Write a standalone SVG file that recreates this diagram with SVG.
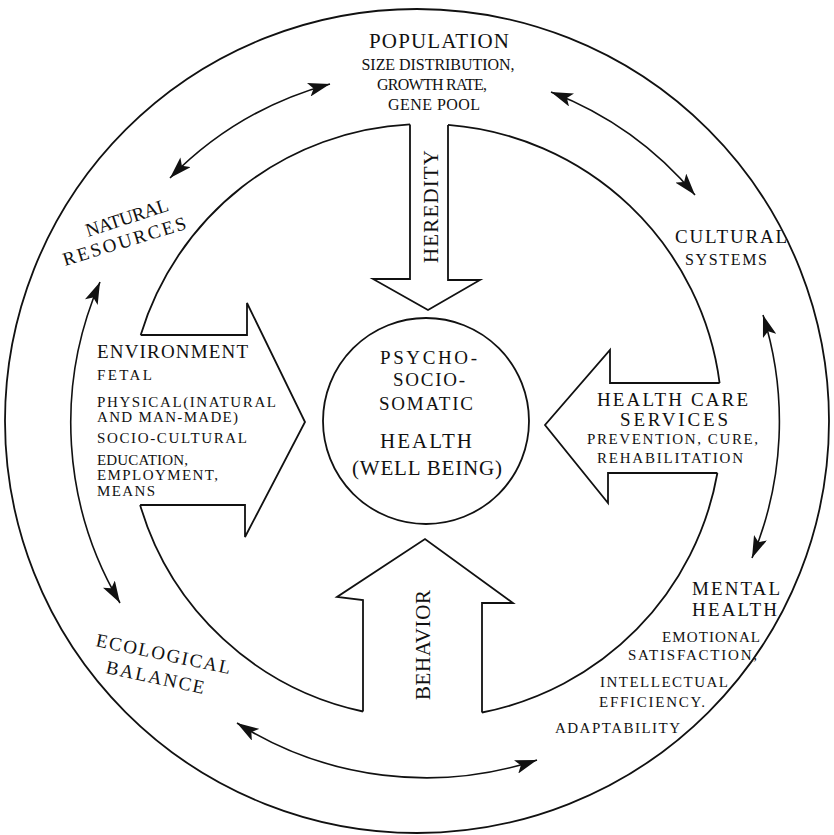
<svg xmlns="http://www.w3.org/2000/svg" width="834" height="835" viewBox="0 0 834 835">
<style>
  .ln { fill: none; stroke: #111; stroke-width: 1.8; }
  .shape { fill: #fff; stroke: #111; stroke-width: 1.8; stroke-linejoin: miter; }
  .conn { fill: none; stroke: #111; stroke-width: 1.6; marker-start: url(#ah); marker-end: url(#ah); }
  text { font-family: "Liberation Serif", "DejaVu Serif", serif; fill: #111; }
  .t21 { font-size: 21px; }
  .t19 { font-size: 19px; }
  .t16 { font-size: 16px; }
  .t15 { font-size: 15px; }
  .mid { text-anchor: middle; }
</style>
<defs>
  <marker id="ah" markerUnits="userSpaceOnUse" markerWidth="22" markerHeight="14" refX="22" refY="7" orient="auto-start-reverse">
    <path d="M0,0 L22,7 L0,14 L5,7 z" fill="#111"/>
  </marker>
</defs>
<rect width="834" height="835" fill="#fff"/>

<g id="outer-ring">
  <circle class="ln" cx="417" cy="421" r="412"/>
</g>

<g id="inner-ring">
  <path class="ln" d="M448,124.9 A297,297 0 0 1 719.6,383"/>
  <path class="ln" d="M717.4,473 A297,297 0 0 1 482,712.5"/>
  <path class="ln" d="M363,711.5 A297,297 0 0 1 140.1,505"/>
  <path class="ln" d="M140.7,335 A297,297 0 0 1 410,124.4"/>
</g>

<g id="connectors">
  <path class="conn" d="M170,178 A354,354 0 0 1 330,84"/>
  <path class="conn" d="M551,92 A354,354 0 0 1 695,195"/>
  <path class="conn" d="M763,315 A354,354 0 0 1 752,558"/>
  <path class="conn" d="M537,760 A354,354 0 0 1 237,723"/>
  <path class="conn" d="M120,603 A354,354 0 0 1 100,282"/>
</g>

<g id="population">
  <text class="t21 mid" x="439" y="48" textLength="140">POPULATION</text>
  <text class="t16 mid" x="438" y="70" textLength="153">SIZE DISTRIBUTION,</text>
  <text class="t16 mid" x="432" y="90" textLength="110">GROWTH RATE,</text>
  <text class="t16 mid" x="434" y="110" textLength="92">GENE POOL</text>
</g>

<g id="natural-resources">
  <text class="t19" transform="translate(88,237) rotate(-18)" textLength="86">NATURAL</text>
  <text class="t19" transform="translate(65,266) rotate(-17)" textLength="128">RESOURCES</text>
</g>

<g id="cultural-systems">
  <text class="t19" x="675" y="243" textLength="112">CULTURAL</text>
  <text class="t16" x="685" y="265" textLength="82">SYSTEMS</text>
</g>

<g id="heredity">
  <path class="shape" d="M410,124.4 L410,279 L373,279 L428,310 L480,280 L448,280 L448,124.9"/>
  <text class="t21" transform="translate(438,263) rotate(-90)" textLength="113">HEREDITY</text>
</g>

<g id="environment">
  <path class="shape" d="M140.7,335 L247,335 L247,303 L305,422 L245,537 L245,505 L140.1,505"/>
  <text class="t19" x="97" y="358" textLength="151">ENVIRONMENT</text>
  <text class="t15" x="97" y="380" textLength="55">FETAL</text>
  <text class="t15" x="97" y="407" textLength="179">PHYSICAL(INATURAL</text>
  <text class="t15" x="97" y="422" textLength="141">AND MAN-MADE)</text>
  <text class="t15" x="97" y="443" textLength="150">SOCIO-CULTURAL</text>
  <text class="t15" x="97" y="465" textLength="91">EDUCATION,</text>
  <text class="t15" x="97" y="480" textLength="121">EMPLOYMENT,</text>
  <text class="t15" x="97" y="496" textLength="58">MEANS</text>
</g>

<g id="health-care-services">
  <path class="shape" d="M719.6,383 L610,383 L610,350 L545,425 L608,503 L608,473 L717.4,473"/>
  <text class="t19" x="597" y="406" textLength="151">HEALTH CARE</text>
  <text class="t19" x="620" y="426" textLength="108">SERVICES</text>
  <text class="t15" x="587" y="444" textLength="171">PREVENTION, CURE,</text>
  <text class="t15" x="597" y="463" textLength="146">REHABILITATION</text>
</g>

<g id="behavior">
  <path class="shape" d="M363,711.5 L363,600 L337,597 L425,539 L513,603 L482,603 L482,712.5"/>
  <text class="t21" transform="translate(430,700) rotate(-90)" textLength="110">BEHAVIOR</text>
</g>

<g id="health">
  <circle class="shape" cx="426" cy="421" r="103"/>
  <text class="t19" x="380" y="364" textLength="97">PSYCHO-</text>
  <text class="t19" x="393" y="386" textLength="72">SOCIO-</text>
  <text class="t19" x="379" y="410" textLength="94">SOMATIC</text>
  <text class="t21" x="380" y="448" textLength="92">HEALTH</text>
  <text class="t21" x="352" y="475" textLength="150">(WELL BEING)</text>
</g>

<g id="ecological-balance">
  <text class="t19" transform="translate(95,646) rotate(11.8)" textLength="137">ECOLOGICAL</text>
  <text class="t19" transform="translate(105,673) rotate(12)" textLength="100">BALANCE</text>
</g>

<g id="mental-health">
  <text class="t19" x="692" y="595" textLength="88">MENTAL</text>
  <text class="t19" x="692" y="616" textLength="85">HEALTH</text>
  <text class="t15" x="662" y="642" textLength="98">EMOTIONAL</text>
  <text class="t15" x="628" y="660" textLength="129">SATISFACTION,</text>
  <text class="t15" x="600" y="687" textLength="128">INTELLECTUAL</text>
  <text class="t15" x="599" y="707" textLength="106">EFFICIENCY.</text>
  <text class="t15" x="555" y="733" textLength="125">ADAPTABILITY</text>
</g>
</svg>
